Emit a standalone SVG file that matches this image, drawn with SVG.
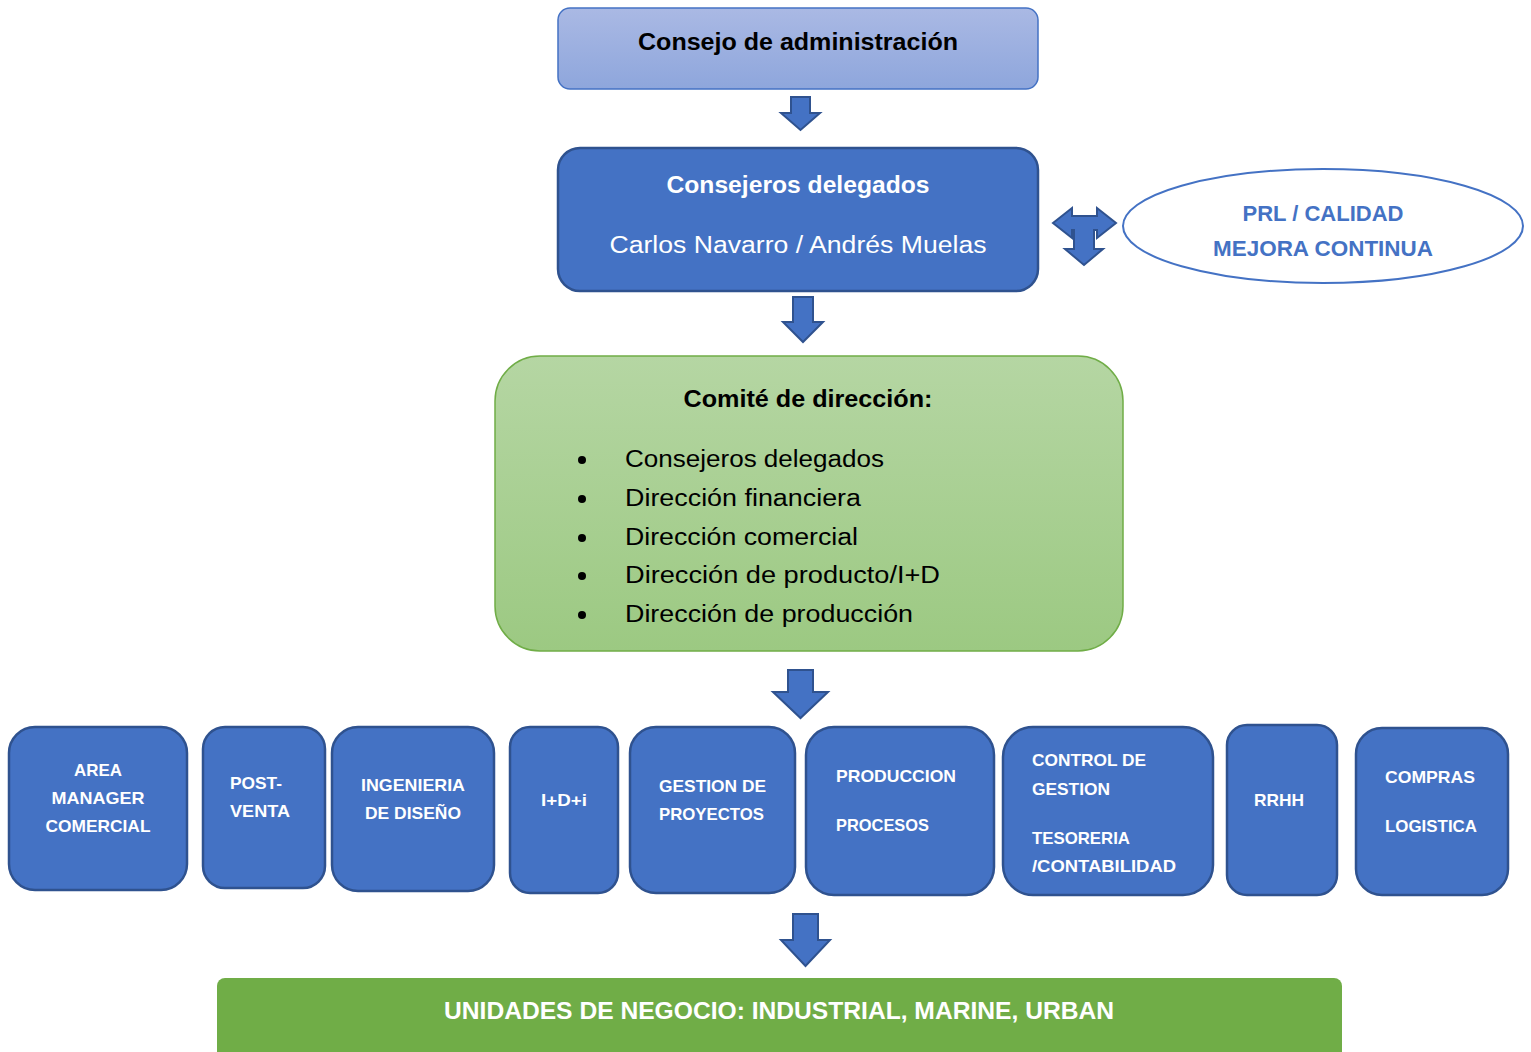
<svg xmlns="http://www.w3.org/2000/svg" width="1531" height="1052" viewBox="0 0 1531 1052">
<defs>
<linearGradient id="gTop" x1="0" y1="0" x2="0" y2="1"><stop offset="0" stop-color="#aab9e4"/><stop offset="1" stop-color="#8ea6dc"/></linearGradient>
<linearGradient id="gGreen" x1="0" y1="0" x2="0" y2="1"><stop offset="0" stop-color="#b5d6a3"/><stop offset="1" stop-color="#9cc982"/></linearGradient>
<style>
text{font-family:"Liberation Sans",Arial,sans-serif}
.unit{fill:#4472c4;stroke:#2f528f;stroke-width:2.5}
.ul{fill:#fff;font-weight:bold;font-size:17px}
.arr{fill:#4472c4;stroke:#2f528f;stroke-width:2}
.big{font-size:23px}
</style>
</defs>
<g id="consejo">
<rect x="558" y="8" width="480" height="81" rx="12" fill="url(#gTop)" stroke="#4472c4" stroke-width="1.5"/>
<text x="798" y="50" text-anchor="middle" class="big" font-weight="bold" fill="#000" textLength="320" lengthAdjust="spacingAndGlyphs">Consejo de administración</text>
</g>
<g id="delegados">
<rect x="558" y="148" width="480" height="143" rx="22" fill="#4472c4" stroke="#2f528f" stroke-width="2.5"/>
<text x="798" y="193" text-anchor="middle" class="big" font-weight="bold" fill="#fff" textLength="263" lengthAdjust="spacingAndGlyphs">Consejeros delegados</text>
<text x="798" y="253" text-anchor="middle" class="big" fill="#fff" textLength="377" lengthAdjust="spacingAndGlyphs">Carlos Navarro / Andrés Muelas</text>
</g>
<g id="prl">
<ellipse cx="1323" cy="226" rx="200" ry="57" fill="#fff" stroke="#4472c4" stroke-width="2"/>
<text x="1323" y="221" text-anchor="middle" font-size="22" font-weight="bold" fill="#4472c4" textLength="161" lengthAdjust="spacingAndGlyphs">PRL / CALIDAD</text>
<text x="1323" y="256" text-anchor="middle" font-size="22" font-weight="bold" fill="#4472c4" textLength="220" lengthAdjust="spacingAndGlyphs">MEJORA CONTINUA</text>
</g>
<g id="comite">
<rect x="495" y="356" width="628" height="295" rx="45" fill="url(#gGreen)" stroke="#70ad47" stroke-width="1.5"/>
<text x="808" y="407" text-anchor="middle" class="big" font-weight="bold" fill="#000" textLength="249" lengthAdjust="spacingAndGlyphs">Comité de dirección:</text>
<g fill="#000">
<circle cx="582" cy="460" r="4"/><circle cx="582" cy="499" r="4"/><circle cx="582" cy="538" r="4"/><circle cx="582" cy="576" r="4"/><circle cx="582" cy="615" r="4"/>
</g>
<g class="big" fill="#000">
<text x="625" y="467" textLength="259" lengthAdjust="spacingAndGlyphs">Consejeros delegados</text>
<text x="625" y="506" textLength="236" lengthAdjust="spacingAndGlyphs">Dirección financiera</text>
<text x="625" y="545" textLength="233" lengthAdjust="spacingAndGlyphs">Dirección comercial</text>
<text x="625" y="583" textLength="315" lengthAdjust="spacingAndGlyphs">Dirección de producto/I+D</text>
<text x="625" y="622" textLength="288" lengthAdjust="spacingAndGlyphs">Dirección de producción</text>
</g>
</g>
<g id="area">
<rect class="unit" x="9" y="727" width="178" height="163" rx="26"/>
<text class="ul" x="98" y="776" text-anchor="middle" textLength="48" lengthAdjust="spacingAndGlyphs">AREA</text>
<text class="ul" x="98" y="804" text-anchor="middle" textLength="93" lengthAdjust="spacingAndGlyphs">MANAGER</text>
<text class="ul" x="98" y="832" text-anchor="middle" textLength="105" lengthAdjust="spacingAndGlyphs">COMERCIAL</text>
</g>
<g id="postventa">
<rect class="unit" x="203" y="727" width="122" height="161" rx="22"/>
<text class="ul" x="230" y="789" textLength="52" lengthAdjust="spacingAndGlyphs">POST-</text>
<text class="ul" x="230" y="817" textLength="60" lengthAdjust="spacingAndGlyphs">VENTA</text>
</g>
<g id="ingenieria">
<rect class="unit" x="332" y="727" width="162" height="164" rx="26"/>
<text class="ul" x="413" y="791" text-anchor="middle" textLength="104" lengthAdjust="spacingAndGlyphs">INGENIERIA</text>
<text class="ul" x="413" y="819" text-anchor="middle" textLength="96" lengthAdjust="spacingAndGlyphs">DE DISEÑO</text>
</g>
<g id="idi">
<rect class="unit" x="510" y="727" width="108" height="166" rx="20"/>
<text class="ul" x="564" y="806" text-anchor="middle" textLength="46" lengthAdjust="spacingAndGlyphs">I+D+i</text>
</g>
<g id="gestion">
<rect class="unit" x="630" y="727" width="165" height="166" rx="26"/>
<text class="ul" x="659" y="792" textLength="107" lengthAdjust="spacingAndGlyphs">GESTION DE</text>
<text class="ul" x="659" y="820" textLength="105" lengthAdjust="spacingAndGlyphs">PROYECTOS</text>
</g>
<g id="produccion">
<rect class="unit" x="806" y="727" width="188" height="168" rx="28"/>
<text class="ul" x="836" y="782" textLength="120" lengthAdjust="spacingAndGlyphs">PRODUCCION</text>
<text class="ul" x="836" y="831" textLength="93" lengthAdjust="spacingAndGlyphs">PROCESOS</text>
</g>
<g id="control">
<rect class="unit" x="1003" y="727" width="210" height="168" rx="30"/>
<text class="ul" x="1032" y="766" textLength="114" lengthAdjust="spacingAndGlyphs">CONTROL DE</text>
<text class="ul" x="1032" y="795" textLength="78" lengthAdjust="spacingAndGlyphs">GESTION</text>
<text class="ul" x="1032" y="844" textLength="98" lengthAdjust="spacingAndGlyphs">TESORERIA</text>
<text class="ul" x="1032" y="872" textLength="144" lengthAdjust="spacingAndGlyphs">/CONTABILIDAD</text>
</g>
<g id="rrhh">
<rect class="unit" x="1227" y="725" width="110" height="170" rx="20"/>
<text class="ul" x="1279" y="806" text-anchor="middle" textLength="50" lengthAdjust="spacingAndGlyphs">RRHH</text>
</g>
<g id="compras">
<rect class="unit" x="1356" y="728" width="152" height="167" rx="26"/>
<text class="ul" x="1385" y="783" textLength="90" lengthAdjust="spacingAndGlyphs">COMPRAS</text>
<text class="ul" x="1385" y="832" textLength="92" lengthAdjust="spacingAndGlyphs">LOGISTICA</text>
</g>
<g id="unidades">
<rect x="217" y="978" width="1125" height="90" rx="8" fill="#70ad47"/>
<text x="779" y="1019" text-anchor="middle" font-size="23" font-weight="bold" fill="#fff" textLength="670" lengthAdjust="spacingAndGlyphs">UNIDADES DE NEGOCIO: INDUSTRIAL, MARINE, URBAN</text>
</g>
<g id="connectors">
<polygon class="arr" points="791,97 810,97 810,113 820,113 800.5,130 781,113 791,113"/>
<polygon class="arr" points="793,297 813,297 813,322 823,322 803,342 783,322 793,322"/>
<polygon class="arr" points="788,670 813,670 813,692 828,692 800.5,718 773,692 788,692"/>
<polygon class="arr" points="793,914 818,914 818,940 830,940 805.5,966 781,940 793,940"/>
<polygon class="arr" points="1053,223 1072,208 1072,216 1097,216 1097,208 1116,223 1097,238 1097,230 1094,230 1094,249 1103,249 1084,265 1065,249 1074,249 1074,230 1072,230 1072,238"/>
</g>
</svg>
